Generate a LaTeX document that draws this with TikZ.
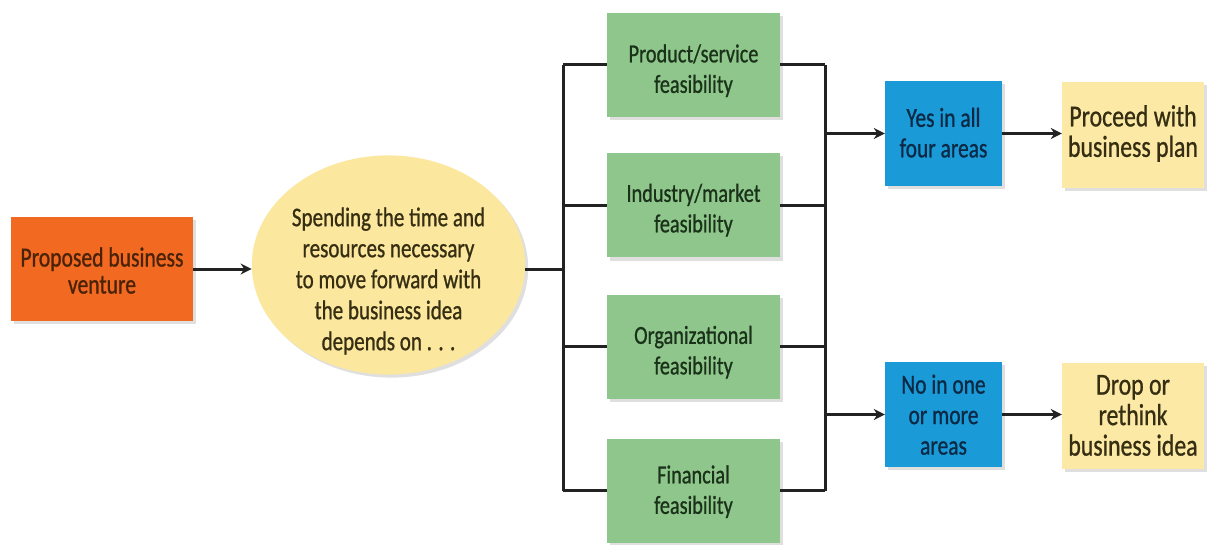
\documentclass[tikz,border=0pt]{standalone}
\usepackage{fontspec}
\setmainfont{Carlito}
\newfontfamily\cf{Carlito}[FakeStretch=0.78,FakeBold=0.8]
\usetikzlibrary{arrows.meta,shadows,shapes.geometric}
\definecolor{orangebox}{HTML}{F26A21}
\definecolor{greenbox}{HTML}{8FC68B}
\definecolor{bluebox}{HTML}{1B9AD8}
\definecolor{yellowbox}{HTML}{FCE9A6}
\definecolor{ellfill}{HTML}{FCE79E}
\definecolor{linecol}{HTML}{222222}
\definecolor{browntext}{HTML}{4A2208}
\definecolor{greentext}{HTML}{1A321A}
\definecolor{bluetext}{HTML}{0B2944}
\definecolor{olivetext}{HTML}{352E12}
\newcommand\mytxt[2]{\raisebox{#1}[\height][\depth]{\begin{tabular}{@{}c@{}}#2\end{tabular}}}
\tikzset{
  shade/.style={drop shadow={opacity=0.25,shadow xshift=3pt,shadow yshift=-3pt}},
  boxbase/.style={rectangle,align=center,inner sep=2pt,shade},
  orangenode/.style={boxbase,fill=orangebox,text=browntext,minimum width=182pt,minimum height=104pt,font=\cf\fontsize{27.7}{27}\selectfont},
  greennode/.style={boxbase,fill=greenbox,text=greentext,minimum width=173pt,minimum height=104pt,font=\cf\fontsize{26}{30.5}\selectfont},
  bluenode/.style={boxbase,fill=bluebox,text=bluetext,minimum width=117pt,minimum height=105pt,font=\cf\fontsize{27.5}{30.5}\selectfont},
  yellownode/.style={boxbase,fill=yellowbox,text=olivetext,minimum width=142pt,minimum height=106pt,font=\cf\fontsize{30.5}{30.5}\selectfont},
  ellnode/.style={ellipse,fill=ellfill,text=olivetext,align=center,inner sep=0pt,minimum width=273pt,minimum height=214pt,shade,font=\cf\fontsize{27}{31}\selectfont},
  conn/.style={draw=linecol,line width=3pt},
  arr/.style={conn,-{Stealth[length=11pt,width=11pt]}}
}
\begin{document}
\begin{tikzpicture}[x=1pt,y=-1pt]
\useasboundingbox (0,0) rectangle (1209,545);
\fill[white] (0,0) rectangle (1209,545);
\node[orangenode] (pbv) at (102,269) {\mytxt{-5.5pt}{Proposed business\\venture}};
\node[ellnode] (ell) at (388.5,265) {\mytxt{-17pt}{Spending the time and\\resources necessary\\to move forward with\\the business idea\\depends on . . .}};
\node[greennode] (g1) at (693.5,65) {\mytxt{-6.5pt}{Product/service\\feasibility}};
\node[greennode] (g2) at (693.5,205.5) {\mytxt{-5.5pt}{Industry/market\\feasibility}};
\node[greennode] (g3) at (693.5,346.5) {\mytxt{-6.5pt}{Organizational\\feasibility}};
\node[greennode] (g4) at (693.5,490.5) {\mytxt{-2pt}{Financial\\feasibility}};
\node[bluenode] (b1) at (943.5,133.5) {\mytxt{-2.5pt}{Yes in all\\four areas}};
\node[bluenode] (b2) at (943.5,414.5) {\mytxt{-3.5pt}{No in one\\or more\\areas}};
\node[yellownode] (y1) at (1133,135) {\mytxt{-0.5pt}{Proceed with\\business plan}};
\node[yellownode] (y2) at (1133,416) {\mytxt{-3pt}{Drop or\\rethink\\business idea}};
\coordinate (lbus) at (563,0);
\coordinate (rbus) at (825,0);
\draw[arr] (pbv.east) -- (pbv.east -| ell.west);
\draw[conn] (ell.east |- pbv.east) -- (pbv.east -| lbus);
\draw[conn] (g1.west -| lbus) -- (g4.west -| lbus);
\foreach \g in {g1,g2,g3,g4}{
  \draw[conn] (\g.west) -- (\g.west -| lbus);
  \draw[conn] (\g.east) -- (\g.east -| rbus);
}
\draw[conn] (g1.east -| rbus) -- (g4.east -| rbus);
\draw[arr] (b1.west -| rbus) -- (b1.west);
\draw[arr] (b2.west -| rbus) -- (b2.west);
\draw[arr] (b1.east) -- (b1.east -| y1.west);
\draw[arr] (b2.east) -- (b2.east -| y2.west);
\end{tikzpicture}
\end{document}
